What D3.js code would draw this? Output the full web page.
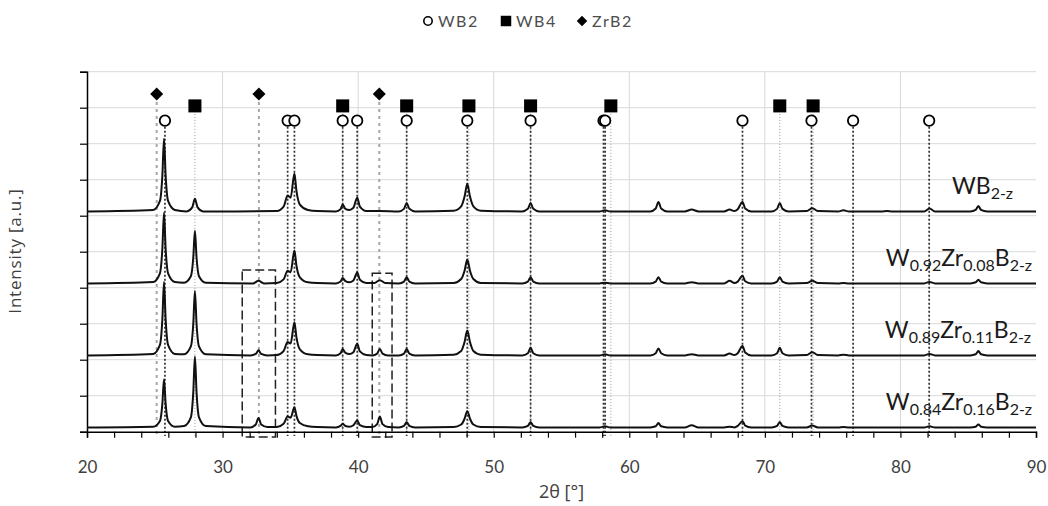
<!DOCTYPE html>
<html>
<head>
<meta charset="utf-8">
<script src="https://cdn.jsdelivr.net/npm/d3@7"></script>
<style>
  body { margin: 0; background: #fff; }
  svg text { font-family: Lato, "Noto Sans", sans-serif; }
</style>
</head>
<body>
<svg id="chart" width="1048" height="506"></svg>
<script>
// ---- XRD patterns: [2θ (°), intensity above the pattern's own baseline (a.u.)] ----
const patternWB2 = [
  [20,0.02],
  [24.88,0.06],[25.38,0.31],[25.56,1.02],[25.68,2.04],[25.8,1.02],[25.98,0.31],[26.48,0.06],
  [27.36,0.02],[27.76,0.13],[27.96,0.37],[28.16,0.13],[28.56,0.02],
  [31,0.02],
  [34.0,0.03],[34.5,0.15],[34.8,0.46],[35.02,0.40],[35.3,1.07],[35.45,0.59],[35.7,0.21],[36.3,0.06],[37.0,0.03],
  [38.36,0.02],[38.7,0.08],[38.86,0.21],[39.06,0.09],[39.35,0.06],
  [39.65,0.12],[39.93,0.40],[40.13,0.15],[40.6,0.03],
  [41.6,0.03],
  [43.0,0.02],[43.38,0.09],[43.58,0.25],[43.78,0.09],[44.2,0.02],
  [47.05,0.04],[47.6,0.16],[47.85,0.43],[48.05,0.79],[48.25,0.43],[48.5,0.16],[49.05,0.04],
  [52.1,0.02],[52.52,0.09],[52.72,0.25],[52.92,0.09],[53.35,0.02],
  [57.8,0.02],[58.2,0.05],[58.6,0.02],
  [61.55,0.02],[61.95,0.10],[62.15,0.28],[62.35,0.10],[62.8,0.02],
  [64.1,0.02],[64.6,0.07],[65.1,0.02],
  [67.0,0.02],[67.4,0.07],[67.75,0.03],
  [68.0,0.08],[68.35,0.28],[68.55,0.10],[69.0,0.02],
  [70.5,0.02],[70.9,0.09],[71.1,0.25],[71.3,0.09],[71.75,0.02],
  [73.1,0.03],[73.5,0.11],[73.9,0.03],
  [75.4,0.02],[75.8,0.05],[76.2,0.02],
  [78.6,0.02],[79.0,0.03],[79.4,0.02],
  [81.75,0.02],[82.15,0.10],[82.55,0.02],
  [85.15,0.02],[85.55,0.06],[85.75,0.17],[85.95,0.06],[86.4,0.02],
  [90,0.02]
];

const patternZr08 = [
  [20,0.02],
  [24.88,0.06],[25.38,0.30],[25.56,0.99],[25.68,1.98],[25.8,0.99],[25.98,0.30],[26.48,0.06],
  [27.16,0.04],[27.66,0.22],[27.84,0.74],[27.96,1.48],[28.08,0.74],[28.26,0.22],[28.76,0.04],
  [32.25,0.02],[32.65,0.09],[33.05,0.02],
  [34.0,0.03],[34.5,0.13],[34.8,0.37],[35.02,0.33],[35.3,0.93],[35.45,0.51],[35.7,0.19],[36.3,0.05],[37.0,0.03],
  [38.36,0.02],[38.7,0.07],[38.86,0.17],[39.06,0.08],[39.35,0.05],
  [39.65,0.10],[39.93,0.32],[40.13,0.12],[40.6,0.03],
  [41.2,0.03],[41.6,0.11],[42.0,0.03],
  [43.0,0.02],[43.38,0.07],[43.58,0.19],[43.78,0.07],[44.2,0.02],
  [47.05,0.03],[47.6,0.14],[47.85,0.37],[48.05,0.68],[48.25,0.37],[48.5,0.14],[49.05,0.03],
  [52.1,0.02],[52.52,0.07],[52.72,0.19],[52.92,0.07],[53.35,0.02],
  [57.8,0.02],[58.2,0.04],[58.6,0.02],
  [61.55,0.02],[61.95,0.07],[62.15,0.19],[62.35,0.07],[62.8,0.02],
  [64.1,0.02],[64.6,0.05],[65.1,0.02],
  [67.0,0.02],[67.4,0.09],[67.75,0.03],
  [68.0,0.07],[68.35,0.23],[68.55,0.08],[69.0,0.02],
  [70.5,0.02],[70.9,0.07],[71.1,0.19],[71.3,0.07],[71.75,0.02],
  [73.1,0.03],[73.5,0.09],[73.9,0.03],
  [75.4,0.02],[75.8,0.03],[76.2,0.02],
  [81.75,0.02],[82.15,0.06],[82.55,0.02],
  [85.15,0.02],[85.55,0.05],[85.75,0.12],[85.95,0.05],[86.4,0.02],
  [90,0.02]
];

const patternZr11 = [
  [20,0.02],
  [24.88,0.06],[25.38,0.31],[25.56,1.03],[25.68,2.06],[25.8,1.03],[25.98,0.31],[26.48,0.06],
  [27.16,0.05],[27.66,0.27],[27.84,0.90],[27.96,1.81],[28.08,0.90],[28.26,0.27],[28.76,0.05],
  [32.05,0.02],[32.45,0.06],[32.65,0.16],[32.85,0.06],[33.3,0.02],
  [34.0,0.03],[34.5,0.14],[34.8,0.39],[35.02,0.35],[35.3,0.94],[35.45,0.52],[35.7,0.19],[36.3,0.05],[37.0,0.03],
  [38.36,0.02],[38.7,0.08],[38.86,0.20],[39.06,0.09],[39.35,0.06],
  [39.65,0.11],[39.93,0.34],[40.13,0.13],[40.6,0.03],
  [41.05,0.02],[41.4,0.07],[41.6,0.20],[41.8,0.07],[42.2,0.02],
  [43.0,0.02],[43.38,0.07],[43.58,0.20],[43.78,0.07],[44.2,0.02],
  [47.05,0.04],[47.6,0.14],[47.85,0.39],[48.05,0.71],[48.25,0.39],[48.5,0.14],[49.05,0.04],
  [52.1,0.02],[52.52,0.08],[52.72,0.23],[52.92,0.08],[53.35,0.02],
  [57.8,0.02],[58.2,0.05],[58.6,0.02],
  [61.55,0.02],[61.95,0.08],[62.15,0.21],[62.35,0.08],[62.8,0.02],
  [64.1,0.02],[64.6,0.05],[65.1,0.02],
  [67.0,0.02],[67.4,0.07],[67.75,0.03],
  [68.0,0.08],[68.35,0.28],[68.55,0.10],[69.0,0.02],
  [70.5,0.02],[70.9,0.08],[71.1,0.23],[71.3,0.08],[71.75,0.02],
  [73.1,0.03],[73.5,0.11],[73.9,0.03],
  [75.4,0.02],[75.8,0.04],[76.2,0.02],
  [81.75,0.02],[82.15,0.06],[82.55,0.02],
  [85.15,0.02],[85.55,0.05],[85.75,0.14],[85.95,0.05],[86.4,0.02],
  [90,0.02]
];

const patternZr16 = [
  [20,0.02],
  [24.88,0.04],[25.38,0.20],[25.56,0.68],[25.68,1.36],[25.8,0.68],[25.98,0.20],[26.48,0.04],
  [27.16,0.06],[27.66,0.30],[27.84,1.00],[27.96,1.99],[28.08,1.00],[28.26,0.30],[28.76,0.06],
  [32.05,0.02],[32.45,0.10],[32.65,0.28],[32.85,0.10],[33.3,0.03],
  [34.0,0.03],[34.5,0.12],[34.8,0.32],[35.02,0.29],[35.3,0.58],[35.45,0.34],[35.7,0.14],[36.3,0.05],[37.0,0.03],
  [38.36,0.02],[38.7,0.06],[38.86,0.12],[39.06,0.06],[39.35,0.04],
  [39.65,0.08],[39.93,0.21],[40.13,0.08],[40.6,0.03],
  [41.05,0.03],[41.4,0.11],[41.6,0.32],[41.8,0.11],[42.2,0.03],
  [43.0,0.02],[43.38,0.06],[43.58,0.17],[43.78,0.06],[44.2,0.02],
  [47.05,0.03],[47.6,0.10],[47.85,0.26],[48.05,0.47],[48.25,0.26],[48.5,0.10],[49.05,0.03],
  [52.1,0.02],[52.52,0.06],[52.72,0.17],[52.92,0.06],[53.35,0.02],
  [57.8,0.02],[58.2,0.05],[58.6,0.02],
  [61.55,0.02],[61.95,0.05],[62.15,0.14],[62.35,0.05],[62.8,0.02],
  [64.1,0.02],[64.6,0.08],[65.1,0.02],
  [67.0,0.02],[67.4,0.04],[67.75,0.02],
  [68.0,0.06],[68.35,0.19],[68.55,0.07],[69.0,0.02],
  [70.5,0.02],[70.9,0.06],[71.1,0.17],[71.3,0.06],[71.75,0.02],
  [73.1,0.02],[73.5,0.07],[73.9,0.02],
  [75.4,0.02],[75.8,0.03],[76.2,0.02],
  [81.75,0.02],[82.15,0.05],[82.55,0.02],
  [85.15,0.02],[85.55,0.04],[85.75,0.10],[85.95,0.04],[86.4,0.02],
  [90,0.02]
];

const patterns = [patternWB2, patternZr08, patternZr11, patternZr16];
// vertical stacking offset of each pattern (a.u.)
const patternOffsets = [6.1, 4.1, 2.1, 0.1];
// sample names as [text, subscript?] runs
const sampleLabels = [
  [["WB",0],["2-z",1]],
  [["W",0],["0.92",1],["Zr",0],["0.08",1],["B",0],["2-z",1]],
  [["W",0],["0.89",1],["Zr",0],["0.11",1],["B",0],["2-z",1]],
  [["W",0],["0.84",1],["Zr",0],["0.16",1],["B",0],["2-z",1]]
];

// ---- reference reflections (2θ, °) ----
const phaseNames = ["WB2", "WB4", "ZrB2"];
const reflWB2  = [25.75, 34.8, 35.3, 38.86, 39.93, 43.58, 48.05, 52.72, 58.1, 58.22, 68.35, 73.44, 76.51, 82.12];
const reflWB4  = [27.96, 38.86, 43.58, 48.17, 52.72, 58.64, 71.1, 73.56];
const reflZrB2 = [25.14, 32.68, 41.56];

// ---- highlighted 2θ windows (ZrB2 reflections): [from, to, top (a.u.)] ----
const highlightWindows = [[31.45, 33.9, 4.49], [41.04, 42.5, 4.4]];

// ---- axis ticks ----
const xTicks = d3.range(20, 91, 2);
const xTickLabels = [20, 30, 40, 50, 60, 70, 80, 90];
const yTicks = d3.range(0, 11, 1);

// ---------------------------------------------------------------
const svg = d3.select("#chart");
const x = d3.scaleLinear().domain([20, 90]).range([87, 1036]);
const y = d3.scaleLinear().domain([0, 10]).range([431.7, 71.7]);

// grid
const grid = svg.append("g").attr("stroke", "#d9d9d9").attr("stroke-width", 1);
grid.selectAll("line.h").data(yTicks.slice(1)).join("line")
  .attr("x1", x(20)).attr("x2", x(90))
  .attr("y1", d => y(d)).attr("y2", d => y(d));
grid.selectAll("line.v").data(xTickLabels.slice(1, -1)).join("line")
  .attr("x1", d => x(d)).attr("x2", d => x(d))
  .attr("y1", y(0)).attr("y2", y(10));

// reflection drop lines
const rowLevel = { WB2: 8.64, WB4: 9.05, ZrB2: 9.38 };
const lineBottom = -0.12;
const drops = svg.append("g").attr("fill", "none");
drops.selectAll("line.zr").data(reflZrB2).join("line")
  .attr("x1", d => x(d)).attr("x2", d => x(d))
  .attr("y1", y(rowLevel.ZrB2) + 8).attr("y2", y(lineBottom))
  .attr("stroke", "#a6a6a6").attr("stroke-width", 2).attr("stroke-dasharray", "3,4");
drops.selectAll("line.wb4").data(reflWB4).join("line")
  .attr("x1", d => x(d)).attr("x2", d => x(d))
  .attr("y1", y(rowLevel.WB4) + 8).attr("y2", y(lineBottom))
  .attr("stroke", "#9a9a9a").attr("stroke-width", 1).attr("stroke-dasharray", "1,2");
drops.selectAll("line.wb2").data(reflWB2).join("line")
  .attr("x1", d => x(d)).attr("x2", d => x(d))
  .attr("y1", y(rowLevel.WB2) + 6).attr("y2", y(lineBottom))
  .attr("stroke", "#333").attr("stroke-width", 1.7).attr("stroke-dasharray", "2,2");

// highlight windows
svg.append("g").selectAll("rect").data(highlightWindows).join("rect")
  .attr("x", d => x(d[0])).attr("width", d => x(d[1]) - x(d[0]))
  .attr("y", d => y(d[2])).attr("height", d => y(-0.15) - y(d[2]))
  .attr("fill", "none").attr("stroke", "#222").attr("stroke-width", 1.5)
  .attr("stroke-dasharray", "9,4");

// axes
const xAxis = svg.append("g").attr("transform", `translate(0,${y(0)})`)
  .call(d3.axisBottom(x).tickValues(xTicks).tickSize(6).tickPadding(23)
    .tickFormat(d => xTickLabels.includes(d) ? d : ""));
xAxis.select(".domain").attr("stroke", "#000").attr("stroke-width", 1.5);
xAxis.selectAll(".tick line").attr("stroke", "#000").attr("stroke-width", 1.2);
xAxis.selectAll("text").attr("font-size", 17).attr("fill", "#404040");

const yAxis = svg.append("g").attr("transform", `translate(${x(20)},0)`)
  .call(d3.axisLeft(y).tickValues(yTicks).tickSize(7).tickFormat(""));
yAxis.select(".domain").attr("stroke", "#000").attr("stroke-width", 1.5);
yAxis.selectAll(".tick line").attr("stroke", "#000").attr("stroke-width", 1.2);

// patterns
const line = d3.line()
  .x(d => x(d[0]))
  .y(d => y(d[1]))
  .curve(d3.curveMonotoneX);
svg.append("g").selectAll("path").data(patterns).join("path")
  .attr("d", (p, i) => line(p.map(d => [d[0], d[1] + patternOffsets[i]])))
  .attr("fill", "none").attr("stroke", "#111").attr("stroke-width", 2)
  .attr("stroke-linejoin", "round");

// sample names
const labelRight = [1013, 1032, 1031, 1032];
sampleLabels.forEach((runs, i) => {
  const t = svg.append("text")
    .attr("x", labelRight[i]).attr("y", y(patternOffsets[i]) - 18)
    .attr("text-anchor", "end").attr("fill", "#1a1a1a");
  let shifted = false;
  runs.forEach(([s, sub]) => {
    const ts = t.append("tspan").text(s).attr("font-size", sub ? 16 : 23);
    if (sub && !shifted) { ts.attr("dy", 5); shifted = true; }
    else if (!sub && shifted) { ts.attr("dy", -5); shifted = false; }
  });
});

// phase markers
const circleSym = d3.symbol().type(d3.symbolCircle).size(85);
const squareSym = d3.symbol().type(d3.symbolSquare).size(170);
const diamondSym = d3.symbol().type(d3.symbolSquare).size(85);
const mk = svg.append("g");
mk.selectAll("path.zr").data(reflZrB2).join("path")
  .attr("transform", d => `translate(${x(d)},${y(rowLevel.ZrB2)}) rotate(45)`)
  .attr("d", diamondSym).attr("fill", "#000");
mk.selectAll("path.wb4").data(reflWB4).join("path")
  .attr("transform", d => `translate(${x(d)},${y(rowLevel.WB4)})`)
  .attr("d", squareSym).attr("fill", "#000");
mk.selectAll("path.wb2").data(reflWB2).join("path")
  .attr("transform", d => `translate(${x(d)},${y(rowLevel.WB2)})`)
  .attr("d", circleSym).attr("fill", "#fff").attr("stroke", "#000").attr("stroke-width", 1.8);

// legend
const legendSyms = [
  d3.symbol().type(d3.symbolCircle).size(55),
  d3.symbol().type(d3.symbolSquare).size(110),
  d3.symbol().type(d3.symbolSquare).size(55)
];
const legendX = [428, 506, 582];
const lg = svg.append("g");
phaseNames.forEach((name, i) => {
  lg.append("path").attr("transform", `translate(${legendX[i]},21)` + (i === 2 ? " rotate(45)" : ""))
    .attr("d", legendSyms[i])
    .attr("fill", i === 0 ? "#fff" : "#000")
    .attr("stroke", i === 0 ? "#000" : "none").attr("stroke-width", 1.6);
  lg.append("text").attr("x", legendX[i] + 10).attr("y", 27)
    .attr("font-size", 16).attr("letter-spacing", 1.5).attr("fill", "#4d4d4d")
    .text(name);
});

// axis titles
svg.append("text").attr("x", x(55)).attr("y", 498)
  .attr("text-anchor", "middle").attr("font-size", 18).attr("fill", "#404040")
  .style("font-family", "'Open Sans', sans-serif")
  .text("2θ [°]");
svg.append("text").attr("transform", "translate(21,251) rotate(-90)")
  .attr("text-anchor", "middle").attr("font-size", 17).attr("letter-spacing", 0.8)
  .attr("fill", "#404040").style("font-family", "'Open Sans', sans-serif")
  .text("Intensity [a.u.]");
</script>
</body>
</html>
